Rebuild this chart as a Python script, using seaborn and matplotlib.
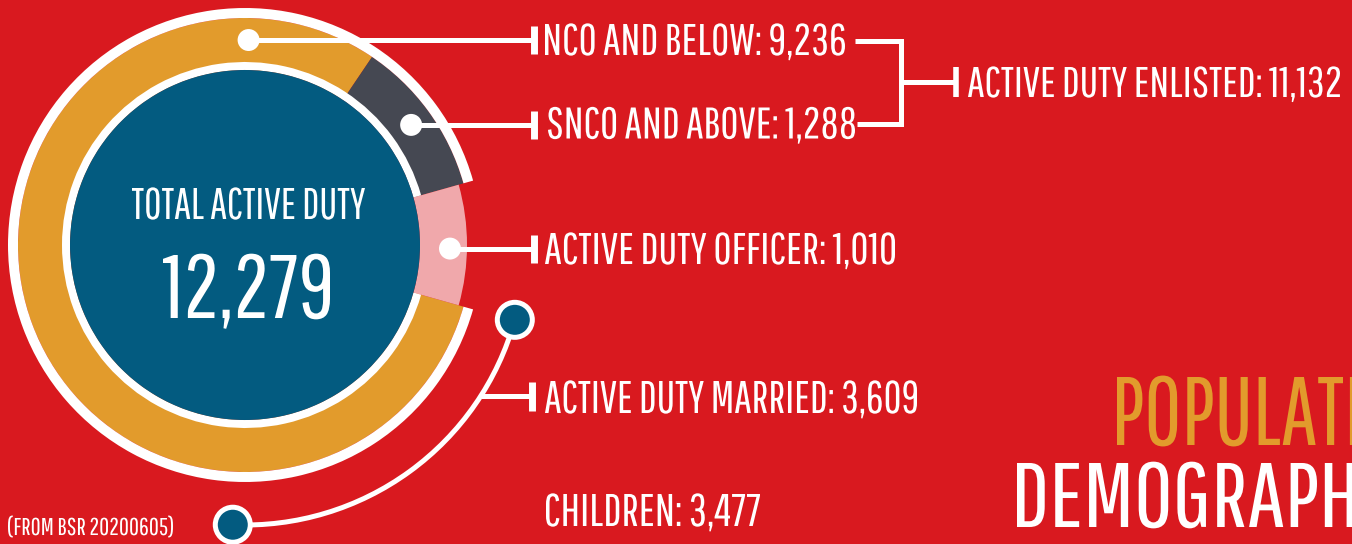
import numpy as np
import matplotlib
matplotlib.use("Agg")
import matplotlib.pyplot as plt
import seaborn as sns
from matplotlib import font_manager as fm
from matplotlib.patches import Wedge, Circle, Arc
from matplotlib.textpath import TextPath
from matplotlib.transforms import Affine2D
import matplotlib.patheffects as pe

# ---------------- data ----------------
segment_names = ["NCO AND BELOW", "SNCO AND ABOVE", "ACTIVE DUTY OFFICER"]
segment_values = [9236, 1288, 1010]
enlisted_label = "ACTIVE DUTY ENLISTED"
enlisted_value = 11132
total_label = "TOTAL ACTIVE DUTY"
total_value = 12279
married_label = "ACTIVE DUTY MARRIED"
married_value = 3609
children_label = "CHILDREN"
children_value = 3477
source_note = "(FROM BSR 20200605)"
title_lines = ["POPULATION", "DEMOGRAPHICS"]

# ---------------- style ----------------
RED = "#D9191F"
ORANGE = "#E29B2C"
GRAY = "#454852"
PINK = "#F0A8AB"
BLUE = "#035B80"
WHITE = "#FFFFFF"
seg_colors = [ORANGE, GRAY, PINK]

W, H = 1352, 544
def Y(p):
    return H - p

sns.set_theme(style="white", rc={"figure.facecolor": RED, "axes.facecolor": RED,
                                 "savefig.facecolor": RED})

# condensed font selection: first candidate whose natural width is close to the
# reference lettering (ratio of ink width to cap height for a sample label)
SAMPLE, SAMPLE_RATIO = "NCO AND BELOW: 9,236", 300 / 31
CANDIDATES = ["pathwaygothicone", "sairaextracondensed-light", "sofiasansextracondensed[",
              "antonio-light", "antonio[", "oswald-light", "oswald[",
              "barlowcondensed-light", "robotocondensed-regular", "dejavusans.ttf"]
ALL_FILES = [f.fname for f in fm.fontManager.ttflist]


def font_ratio(path):
    fp = fm.FontProperties(fname=path)
    cap = TextPath((0, 0), "H", size=1, prop=fp).get_extents().height
    w = TextPath((0, 0), SAMPLE, size=1, prop=fp).get_extents().width
    return w / cap


def pick_font():
    found = []
    for c in CANDIDATES:
        for f in ALL_FILES:
            if f.split("/")[-1].lower().startswith(c):
                found.append(f)
                break
    best, best_err = None, 9
    for f in found:
        try:
            err = abs(np.log(font_ratio(f) / SAMPLE_RATIO))
        except Exception:
            continue
        if err < 0.06:
            return f
        if err < best_err:
            best, best_err = f, err
    return best or fm.findfont("DejaVu Sans")


FONT_FILE = pick_font()
FP = fm.FontProperties(fname=FONT_FILE)
CAP_RATIO = TextPath((0, 0), "H", size=1, prop=FP).get_extents().height


class HSqueeze(pe.AbstractPathEffect):
    """Draw text glyphs horizontally scaled about the text origin."""
    def __init__(self, sx):
        super().__init__()
        self.sx = sx

    def draw_path(self, renderer, gc, tpath, affine, rgbFace=None):
        renderer.draw_path(gc, tpath, Affine2D().scale(self.sx, 1.0) + affine, rgbFace)


fig = plt.figure(figsize=(W / 100, H / 100), dpi=100)
ax = fig.add_axes([0, 0, 1, 1])


def label(s, x_left, baseline_px, cap_px, width_px, color=WHITE, ref=None):
    fs_px = cap_px / CAP_RATIO
    ext = TextPath((0, 0), ref or s, size=1, prop=FP).get_extents()
    sx = width_px / (ext.width * fs_px)
    x0 = x_left - ext.x0 * fs_px * sx
    fp = FP.copy()
    fp.set_size(fs_px * 72 / 100)
    ax.text(x0, Y(baseline_px), s, fontproperties=fp, color=color,
            ha="left", va="baseline", path_effects=[HSqueeze(sx)], zorder=10)


# ---------------- donut ----------------
CX, CY = 245, 245
R_OUT, R_BLUE = 227, 175
total_seg = sum(segment_values)
officer_deg = 360 * segment_values[2] / total_seg
wedges, _ = ax.pie(segment_values, colors=seg_colors, startangle=360 - officer_deg / 2,
                   counterclock=False, radius=R_OUT, center=(CX, Y(CY)),
                   wedgeprops=dict(width=R_OUT - R_BLUE, linewidth=0, edgecolor="none"))
wedges[2].set_radius(222)
wedges[2].set_width(222 - R_BLUE)

t1 = wedges[2].theta2
t2 = wedges[2].theta1 + 360
ax.add_patch(Wedge((CX, Y(CY)), 237, t1, t2, width=10, facecolor=WHITE, linewidth=0, zorder=3))
ax.add_patch(Wedge((CX, Y(CY)), 183, t1, t2, width=8, facecolor=WHITE, linewidth=0, zorder=3))
ax.add_patch(Circle((CX, Y(CY)), R_BLUE, facecolor=BLUE, linewidth=0, zorder=4))

# dots on the segments
R_MID = 205
dot_angles = [89.0,
              (wedges[1].theta1 + wedges[1].theta2) / 2,
              -1.0]
dot_x = [CX + R_MID * np.cos(np.radians(a)) for a in dot_angles]
dot_y = [Y(CY) + R_MID * np.sin(np.radians(a)) for a in dot_angles]

LW = 3.6  # 5 px
TICK_X = 533.5
for x, y in zip(dot_x, dot_y):
    ax.plot([x, TICK_X], [y, y], color=WHITE, lw=LW, solid_capstyle="butt", zorder=5)
    ax.plot([TICK_X, TICK_X], [y - 14, y + 14], color=WHITE, lw=5, solid_capstyle="butt", zorder=5)
sns.scatterplot(x=dot_x, y=dot_y, s=250, color=WHITE, edgecolor="none", ax=ax,
                legend=False, zorder=6)

# enlisted bracket
ax.plot([855, 900.5, 900.5, 857], [Y(40.5), Y(40.5), Y(124), Y(124)], color=WHITE, lw=LW,
        solid_joinstyle="miter", solid_capstyle="butt", zorder=5)
ax.plot([900.5, 955.5], [Y(82), Y(82)], color=WHITE, lw=LW, solid_capstyle="butt", zorder=5)
ax.plot([955.5, 955.5], [Y(67), Y(97)], color=WHITE, lw=4, solid_capstyle="butt", zorder=5)

# married arc
R_ARC = 280
a_top, a_bot = -15.5, -92.5
ax.add_patch(Arc((CX, Y(CY)), 2 * R_ARC, 2 * R_ARC, theta1=a_bot, theta2=a_top,
                 color=WHITE, lw=LW, zorder=5))
for a in (a_top, a_bot):
    ax.add_patch(Circle((CX + R_ARC * np.cos(np.radians(a)), Y(CY) + R_ARC * np.sin(np.radians(a))),
                        17.5, facecolor=BLUE, edgecolor=WHITE, lw=LW, zorder=6))
MARRIED_Y = 396
ang = np.arcsin((MARRIED_Y - CY) / R_ARC)
mx = CX + R_ARC * np.cos(ang)
ax.plot([mx, 531.5], [Y(MARRIED_Y), Y(MARRIED_Y)], color=WHITE, lw=LW, solid_capstyle="butt", zorder=5)
ax.plot([531.5, 531.5], [Y(382), Y(411)], color=WHITE, lw=5, solid_capstyle="butt", zorder=5)

# ---------------- texts ----------------
label(f"{segment_names[0]}: {segment_values[0]:,}", 545, 55, 31, 300)
label(f"{segment_names[1]}: {segment_values[1]:,}", 548, 138.5, 31, 307)
label(f"{segment_names[2]}: {segment_values[2]:,}", 545, 264, 31, 350)
label(f"{enlisted_label}: {enlisted_value:,}", 968, 97, 30, 372)
label(f"{married_label}: {married_value:,}", 545, 413, 32, 372)
label(f"{children_label}: {children_value:,}", 546, 526, 32, 214)
label(source_note, 8, 535, 17, 165)
label(total_label, 132, 219, 31, 233)
label(f"{total_value:,}", 163, 318, 63, 167)
label(title_lines[0], 1117, 445, 68, 226, color=ORANGE, ref="POPULAT")
label(title_lines[1], 1017, 527, 64, 300, ref="DEMOGRAP")

ax.set_xlim(0, W)
ax.set_ylim(0, H)
ax.set_aspect("equal", adjustable="box")
ax.set_axis_off()

fig.savefig("out.png", dpi=100, facecolor=RED)
